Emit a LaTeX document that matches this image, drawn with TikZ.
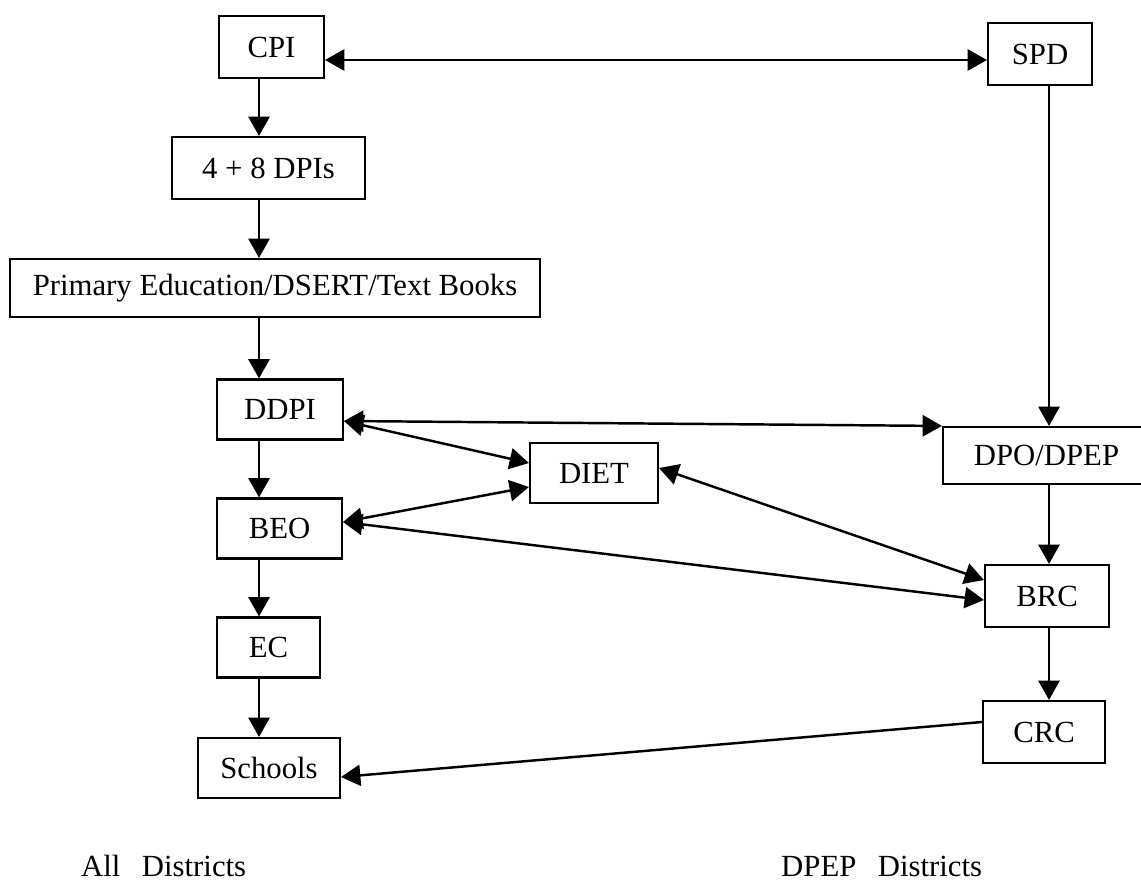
\documentclass[tikz,border=0pt]{standalone}
\usepackage{fontspec}
\setmainfont{Liberation Serif}
\usepackage{tikz}
\usetikzlibrary{arrows.meta}

\begin{document}
\begin{tikzpicture}[x=0.02cm, y=-0.02cm,
  every node/.style={font=\fontsize{17.5}{20}\selectfont},
  box/.style={draw, line width=1.2pt, inner sep=0pt, minimum height=1.2cm},
  link/.style={line width=1.4pt, -{Triangle[length=11pt,width=12pt]}},
  both/.style={link, {Triangle[length=11pt,width=12pt]}-{Triangle[length=11pt,width=12pt]}}]
  \useasboundingbox (0,0) rectangle (1141,891);
  \clip (0,0) rectangle (1141,891);
  \coordinate (col) at (259,0);
  \coordinate (rcol) at (1049,0);

  % left column
  \node[box, minimum width=2.10cm, minimum height=1.24cm] (cpi) at (271.5,47) {CPI};
  \node[box, minimum width=3.86cm, minimum height=1.24cm] (dpis) at (268.5,168) {4 + 8 DPIs};
  \node[box, minimum width=10.6cm, minimum height=1.16cm] (primary) at (275,288) {Primary Education/DSERT/Text Books};
  \node[box, minimum width=2.52cm] (ddpi) at (280,409.5) {DDPI};
  \node[box, minimum width=2.50cm] (beo) at (279.5,528.5) {BEO};
  \node[box, minimum width=2.06cm] (ec) at (268.5,647.5) {EC};
  \node[box, minimum width=2.84cm] (schools) at (269,768) {Schools};
  \node[box, minimum width=2.56cm] (diet) at (594,473) {DIET};

  % right column
  \node[box, minimum width=2.08cm, minimum height=1.24cm] (spd) at (1040,54) {SPD};
  \node[box, minimum width=4.14cm, minimum height=1.14cm] (dpo) at (1046.5,455.5) {DPO/DPEP};
  \node[box, minimum width=2.48cm, minimum height=1.24cm] (brc) at (1047,596) {BRC};
  \node[box, minimum width=2.44cm, minimum height=1.24cm] (crc) at (1044,732) {CRC};

  \node[anchor=west] (alld) at (75,866) {All\hspace{0.7em}Districts};
  \node[anchor=west] (dpepd) at (775,866) {DPEP\hspace{0.7em}Districts};

  \draw[link] (cpi.south -| col) -- (dpis.north -| col);
  \draw[link] (dpis.south -| col) -- (primary.north -| col);
  \draw[link] (primary.south -| col) -- (ddpi.north -| col);
  \draw[link] (ddpi.south -| col) -- (beo.north -| col);
  \draw[link] (beo.south -| col) -- (ec.north -| col);
  \draw[link] (ec.south -| col) -- (schools.north -| col);

  \draw[both] ([yshift=-0.26cm]cpi.east) -- ([yshift=-0.26cm]cpi.east -| spd.west);
  \draw[link] (spd.south -| rcol) -- (dpo.north -| rcol);
  \draw[link] (dpo.south -| rcol) -- (brc.north -| rcol);
  \draw[link] (brc.south -| rcol) -- (crc.north -| rcol);

  \draw[both] ([yshift=-0.23cm]ddpi.east) -- (dpo.north west);
  \draw[both] ([yshift=-0.23cm]ddpi.east) -- ([yshift=0.2cm]diet.west);
  \draw[both] ([yshift=0.13cm]beo.east) -- ([yshift=-0.28cm]diet.west);
  \draw[both] ([yshift=0.13cm]beo.east) -- ([yshift=-0.08cm]brc.west);
  \draw[both] ([yshift=0.1cm]diet.east) -- ([yshift=0.32cm]brc.west);
  \draw[link] ([yshift=0.2cm]crc.west) -- ([yshift=-0.18cm]schools.east);
\end{tikzpicture}
\end{document}
